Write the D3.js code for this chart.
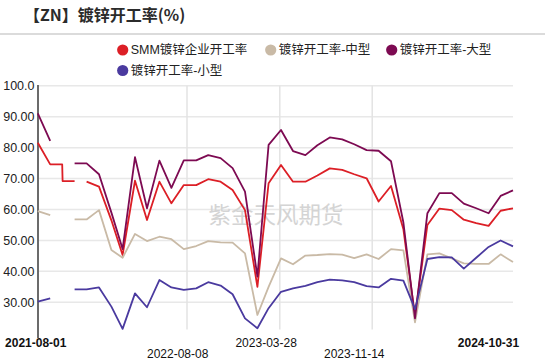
<!DOCTYPE html>
<html><head><meta charset="utf-8">
<script src="https://cdn.jsdelivr.net/npm/d3@7"></script>
<style>body{margin:0;background:#fff;} svg{display:block}</style>
</head><body><svg id="c" width="550" height="362"></svg>
<script>
const months = ["2021-07-31","2021-08-31","2021-09-30","2021-10-31","2021-11-30","2021-12-31",
"2022-01-31","2022-02-28","2022-03-31","2022-04-30","2022-05-31","2022-06-30","2022-07-31","2022-08-31","2022-09-30","2022-10-31","2022-11-30","2022-12-31",
"2023-01-31","2023-02-28","2023-03-31","2023-04-30","2023-05-31","2023-06-30","2023-07-31","2023-08-31","2023-09-30","2023-10-31","2023-11-30","2023-12-31",
"2024-01-31","2024-02-29","2024-03-31","2024-04-30","2024-05-31","2024-06-30","2024-07-31","2024-08-31","2024-09-30","2024-10-31"];
const smmEarlyDates = ["2021-07-31","2021-08-31","2021-09-30","2021-10-01","2021-10-31"];
const smmEarly = [81.6, 74.6, 74.6, 69.2, 69.2];
const smm = [null,null,null,null,69.0,67.4,56.5,45.3,69.3,56.6,69.0,62.0,67.9,67.9,69.8,69.0,66.3,59.8,
35.0,68.5,74.4,69.0,69.0,71.0,73.3,72.8,71.4,70.1,62.6,67.6,53.6,25.5,55.0,60.3,59.8,56.7,55.6,54.7,59.6,60.4];
const mid = [59.5,58.2,null,56.8,56.8,59.8,46.9,44.4,52.1,49.8,51.2,50.4,47.2,48.2,49.8,49.4,49.3,45.8,
25.9,35.0,44.2,42.3,45.1,45.3,45.6,45.4,44.3,45.5,44.0,47.2,46.8,23.5,45.5,45.8,44.2,42.6,42.4,42.4,45.5,43.0];
const large = [91.1,82.2,null,74.9,74.9,71.4,59.0,47.2,76.9,60.4,75.8,67.0,75.9,75.9,77.6,76.6,73.4,65.8,
38.3,80.9,85.7,78.9,77.6,80.8,83.3,82.7,81.1,79.2,79.0,75.6,55.8,24.8,58.8,65.3,65.3,61.9,60.4,58.8,64.4,66.2];
const small = [30.2,31.3,null,34.2,34.2,34.8,28.6,21.4,32.9,28.4,37.2,34.8,34.0,34.5,36.5,35.4,32.6,24.8,
21.6,28.1,33.4,34.5,35.3,36.5,37.3,37.1,36.5,35.2,34.8,37.6,37.0,27.8,44.0,44.6,44.5,40.9,44.4,47.9,50.0,48.1];

const seriesNames = ["SMM镀锌企业开工率","镀锌开工率-中型","镀锌开工率-大型","镀锌开工率-小型"];
const seriesColors = ["#dc1f26","#c9baa6","#7d0a52","#4a3a9f"];
const yTicks = [100,90,80,70,60,50,40,30];
const yTickLabels = ["100.0","90.00","80.00","70.00","60.00","50.00","40.00","30.00"];
const xGridDates = ["2022-08-08","2023-03-28","2023-11-14"];
const xLabelDates = ["2021-08-01","2022-08-08","2023-03-28","2023-11-14","2024-10-31"];
const xLabelRow = [0,1,0,1,0];
const xLabelBold = [true,false,false,false,true];
const title = "【ZN】镀锌开工率(%)";
const watermark = "紫金天风期货";

const parse = d3.timeParse("%Y-%m-%d");
const svg = d3.select("#c");
svg.append("rect").attr("width",550).attr("height",362).attr("fill","#fff");

const x = d3.scaleTime().domain([parse("2021-07-31"), parse("2024-10-31")]).range([37.8, 513]);
const xl = x.copy().range([35.4, 488.5]);
const y = d3.scaleLinear().domain([30, 100]).range([302.3, 85.8]);

// title
svg.append("text").attr("x",24).attr("y",21).text(title)
  .attr("font-family","'Noto Sans CJK SC',sans-serif").attr("font-weight","bold")
  .attr("font-size",16).attr("fill","#2b2b2b");
svg.append("line").attr("x1",0).attr("x2",545).attr("y1",34).attr("y2",34)
  .attr("stroke","#cfcfcf").attr("stroke-width",1.5);

// legend
const legPos = [[122.7,50],[270.7,50],[391.7,50],[122.7,70.5]];
seriesNames.forEach((n,i)=>{
  const g = svg.append("g").attr("transform",`translate(${legPos[i][0]},${legPos[i][1]})`);
  g.append("circle").attr("r",5.6).attr("fill",seriesColors[i]);
  g.append("text").attr("x",8).attr("y",4.3).text(n)
    .attr("font-family","Arial,'Liberation Sans','Noto Sans CJK SC',sans-serif")
    .attr("font-size",12.5).attr("fill","#222");
});

// horizontal gridlines
svg.append("g").selectAll("line").data(yTicks).join("line")
  .attr("x1",38).attr("x2",513).attr("y1",d=>y(d)).attr("y2",d=>y(d))
  .attr("stroke","#e8e8e8").attr("stroke-width",1.5);
// vertical gridlines
svg.append("g").selectAll("line").data(xGridDates).join("line")
  .attr("x1",d=>x(parse(d))).attr("x2",d=>x(parse(d)))
  .attr("y1",y(100)).attr("y2",y(21.2))
  .attr("stroke","#e3e3e3").attr("stroke-width",1.5);

// watermark
svg.append("text").attr("x",276).attr("y",223).attr("text-anchor","middle").text(watermark)
  .attr("font-family","'Noto Sans CJK SC',sans-serif").attr("font-size",22.5)
  .attr("fill","#d4d4d4");

// y axis
svg.append("line").attr("x1",38).attr("x2",38).attr("y1",85).attr("y2",338)
  .attr("stroke","#6b6b6b").attr("stroke-width",2);
svg.append("g").selectAll("text").data(yTicks).join("text")
  .attr("x",34.5).attr("y",d=>y(d)+4.5).attr("text-anchor","end")
  .text((d,i)=>yTickLabels[i])
  .attr("font-family","Arial,'Liberation Sans',sans-serif").attr("font-size",12.5).attr("fill","#222");

// x labels
svg.append("g").selectAll("text").data(xLabelDates).join("text")
  .attr("x",d=>xl(parse(d))).attr("y",(d,i)=> xLabelRow[i]===0 ? 347 : 358)
  .attr("text-anchor","middle").text(d=>d)
  .attr("font-weight",(d,i)=>xLabelBold[i]?"bold":"normal")
  .attr("font-family","Arial,'Liberation Sans',sans-serif").attr("font-size",12).attr("fill","#111");

// lines
const line = d3.line().defined(d=>d.v!=null).x(d=>x(d.date)).y(d=>y(d.v));
const toPts = (dates, vals) => dates.map((d,i)=>({date:parse(d), v:vals[i]}));
const data = [toPts(months,smm), toPts(months,mid), toPts(months,large), toPts(months,small)];
const lg = svg.append("g").attr("fill","none").attr("stroke-width",1.8).attr("stroke-linejoin","round");
lg.append("path").attr("d",line(toPts(smmEarlyDates,smmEarly))).attr("stroke",seriesColors[0]);
data.forEach((pts,i)=>{
  lg.append("path").attr("d",line(pts)).attr("stroke",seriesColors[i]);
});
</script></body></html>
